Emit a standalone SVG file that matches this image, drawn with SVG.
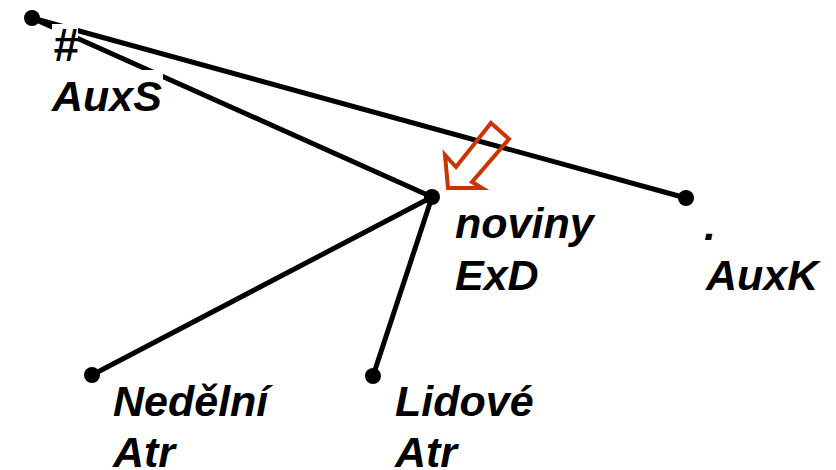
<svg xmlns="http://www.w3.org/2000/svg" width="836" height="470" viewBox="0 0 836 470">
<style>
.edge{stroke:#000;stroke-width:5;fill:none;stroke-linecap:butt}
.dot{fill:#000}
.lbl{font-family:"Liberation Sans",Arial,sans-serif;font-weight:bold;font-style:italic;font-size:43px;fill:#000}
.bg{fill:#fff}
.hl{fill:none;stroke:#CC3300;stroke-width:4;stroke-linejoin:miter}
</style>
<rect width="836" height="470" fill="#fff"/>
<g id="connectors">
<line class="edge" x1="32" y1="18" x2="686" y2="198"/>
<line class="edge" x1="32" y1="18" x2="432" y2="197"/>
<line class="edge" x1="432" y1="197" x2="92" y2="375"/>
<line class="edge" x1="432" y1="197" x2="373" y2="376"/>
</g>
<g id="root">
<circle class="dot" cx="32" cy="18" r="8"/>
<rect class="bg" x="52" y="24" width="26" height="38"/>
<text class="lbl" x="53" y="61" style="font-size:46px">#</text>
<rect class="bg" x="50" y="70" width="113" height="44"/>
<text class="lbl" x="52" y="111">AuxS</text>
</g>
<g id="noviny">
<circle class="dot" cx="432" cy="197" r="8"/>
<text class="lbl" x="455" y="238">noviny</text>
<text class="lbl" x="455" y="290">ExD</text>
</g>
<g id="auxk">
<circle class="dot" cx="686" cy="198" r="8"/>
<text class="lbl" x="704" y="240">.</text>
<text class="lbl" x="706" y="290">AuxK</text>
</g>
<g id="nedelni">
<circle class="dot" cx="92" cy="375" r="8"/>
<text class="lbl" x="113" y="416">Nedělní</text>
<text class="lbl" x="113" y="467">Atr</text>
</g>
<g id="lidove">
<circle class="dot" cx="373" cy="376" r="8"/>
<text class="lbl" x="395" y="416">Lidové</text>
<text class="lbl" x="395" y="467">Atr</text>
</g>
<g id="arrow">
<polygon class="hl" points="491,123 509,139 472,182 482,188 448,188 445,155 456,167"/>
</g>
</svg>
